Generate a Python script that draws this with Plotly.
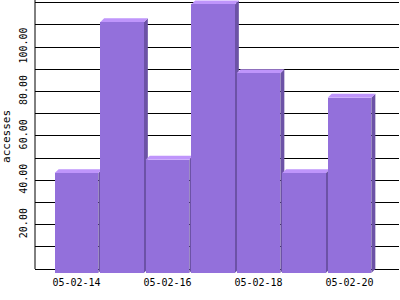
import plotly.graph_objects as go

# ---- data ----
categories = ["05-02-14", "05-02-15", "05-02-16", "05-02-17", "05-02-18", "05-02-19", "05-02-20"]
values = [45, 113, 51, 121, 90, 45, 79]
y_tick_values = [0, 10, 20, 30, 40, 50, 60, 70, 80, 90, 100, 110, 120]
y_tick_labels = ["", "", "20.00", "", "40.00", "", "60.00", "", "80.00", "", "100.00", "", ""]
x_label_every = 2

# ---- style ----
FRONT = "#9370DB"
TOP = "#BF95FB"
SIDE = "#6C52A6"
W = 0.96      # bar width (category units)
DX = 0.088    # depth offset in x (category units)
DY = 1.8      # depth offset in y (value units)
YMAX = max(values) + 0.2
FONT = "DejaVu Sans Mono"

xs = list(range(len(values)))

side_x, side_y, top_x, top_y = [], [], [], []
for k, v in zip(xs, values):
    fl, fr = k - DX - W / 2, k - DX + W / 2
    bl, br = k - W / 2, k + W / 2
    side_x += [fr, br, br, fr, fr, None]
    side_y += [-DY, 0, v, v - DY, -DY, None]
    top_x += [fl, fr, br, bl, fl, None]
    top_y += [v - DY, v - DY, v, v, v - DY, None]

fig = go.Figure()
fig.add_trace(go.Scatter(x=side_x, y=side_y, mode="lines", fill="toself",
                         fillcolor=SIDE, line=dict(width=0), hoverinfo="skip",
                         showlegend=False))
fig.add_trace(go.Scatter(x=top_x, y=top_y, mode="lines", fill="toself",
                         fillcolor=TOP, line=dict(width=0), hoverinfo="skip",
                         showlegend=False))
fig.add_trace(go.Bar(x=[k - DX for k in xs], y=values, base=-DY, width=W,
                     marker=dict(color=FRONT, line=dict(width=0)),
                     xaxis="x2", yaxis="y2", showlegend=False))

fig.update_layout(
    width=400, height=300,
    margin=dict(l=35, r=1, t=0, b=27),
    paper_bgcolor="white", plot_bgcolor="white",
    font=dict(family=FONT, size=10, color="black"),
    xaxis=dict(range=[-1, 7], showgrid=False, zeroline=False, showline=False,
               tickmode="array",
               tickvals=[k - DX for k in xs[::x_label_every]],
               ticktext=categories[::x_label_every],
               ticks="", tickfont=dict(size=10), ticklabelstandoff=2),
    yaxis=dict(range=[-DY, YMAX], tickmode="array", tickvals=y_tick_values,
               ticktext=y_tick_labels, showgrid=True, gridcolor="black",
               gridwidth=1, zeroline=False, showline=False, ticks="",
               tickangle=-90, tickfont=dict(size=10), ticklabelstandoff=5,
               title=dict(text="accesses", font=dict(size=11, color="black"), standoff=6)),
    xaxis2=dict(range=[-1, 7], overlaying="x", visible=False),
    yaxis2=dict(range=[-DY, YMAX], overlaying="y", visible=False),
    bargap=0,
    shapes=[dict(type="line", xref="paper", yref="y", x0=0, x1=0, y0=0, y1=YMAX,
                 line=dict(color="black", width=1))],
)

fig.write_html("out.html")
